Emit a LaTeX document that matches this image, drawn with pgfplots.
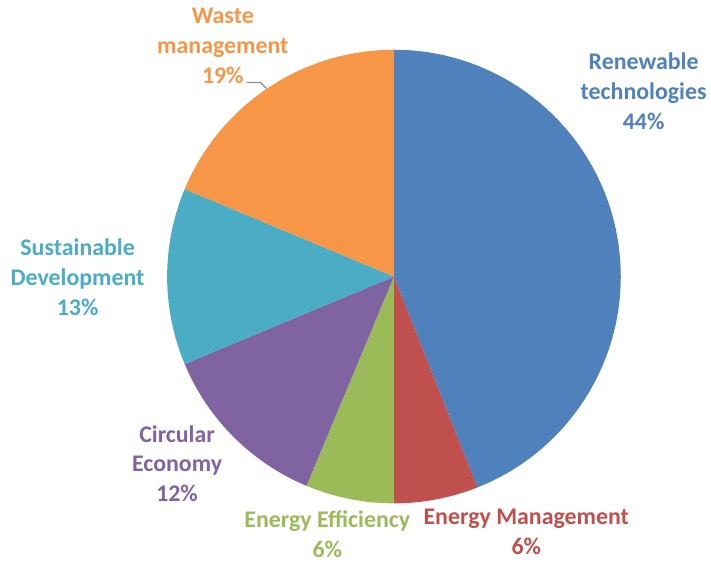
\documentclass[border=0pt]{standalone}
\usepackage{pgfplots}
\pgfplotsset{compat=1.18}
\usepackage{pgfplotstable}
\usepackage{fontspec}
\setmainfont{Carlito}
\definecolor{cRen}{HTML}{4F81BD}
\definecolor{cMan}{HTML}{C0504D}
\definecolor{cEff}{HTML}{9BBB59}
\definecolor{cCir}{HTML}{8064A2}
\definecolor{cSus}{HTML}{4BACC6}
\definecolor{cWas}{HTML}{F79646}
% share values (percent), clockwise from 12 o'clock
\pgfplotstableread{
name value cum
Renewable 44 0
Management 6 44
Efficiency 6.3 50
Circular 12.4 56.3
Sustainable 12.6 68.7
Waste 18.7 81.3
}\piedata
\newcommand\slice[3]{%
  \fill[#3] (axis cs:396,278) -- ++({90-3.6*#1}:171pt)
    arc[start angle={90-3.6*#1}, end angle={90-3.6*(#1+#2)}, radius=171pt] -- cycle;}
\newcommand\lab{\bfseries\fontsize{18}{22.5}\selectfont}
\begin{document}
\begin{tikzpicture}
\begin{axis}[scale only axis, width=533.25pt, height=425.25pt,
  xmin=0, xmax=711, ymin=0, ymax=567, y dir=reverse,
  hide axis, clip=false]
\path (axis cs:0,0) rectangle (axis cs:711,567);
\slice{0}{44}{cRen}
\slice{44}{6}{cMan}
\slice{50}{6.3}{cEff}
\slice{56.3}{12.4}{cCir}
\slice{68.7}{12.6}{cSus}
\slice{81.3}{18.7}{cWas}
\node[align=center, text=cRen, font=\lab] at (axis cs:647,92) {Renewable\\technologies\\44\%};
\node[align=center, text=cMan, font=\lab] at (axis cs:529,535) {Energy Management\\6\%};
\node[align=center, text=cEff, font=\lab] at (axis cs:329,537) {Energy Efficiency\\6\%};
\node[align=center, text=cCir, font=\lab] at (axis cs:178,466) {Circular\\Economy\\12\%};
\node[align=center, text=cSus, font=\lab] at (axis cs:78,279) {Sustainable\\Development\\13\%};
\node[align=center, text=cWas, font=\lab] at (axis cs:224,46) {Waste\\management\\19\%};
\draw[black!45, line width=0.9pt] (axis cs:248,83) -- (axis cs:262,83) -- (axis cs:268,89);
\end{axis}
\end{tikzpicture}
\end{document}
